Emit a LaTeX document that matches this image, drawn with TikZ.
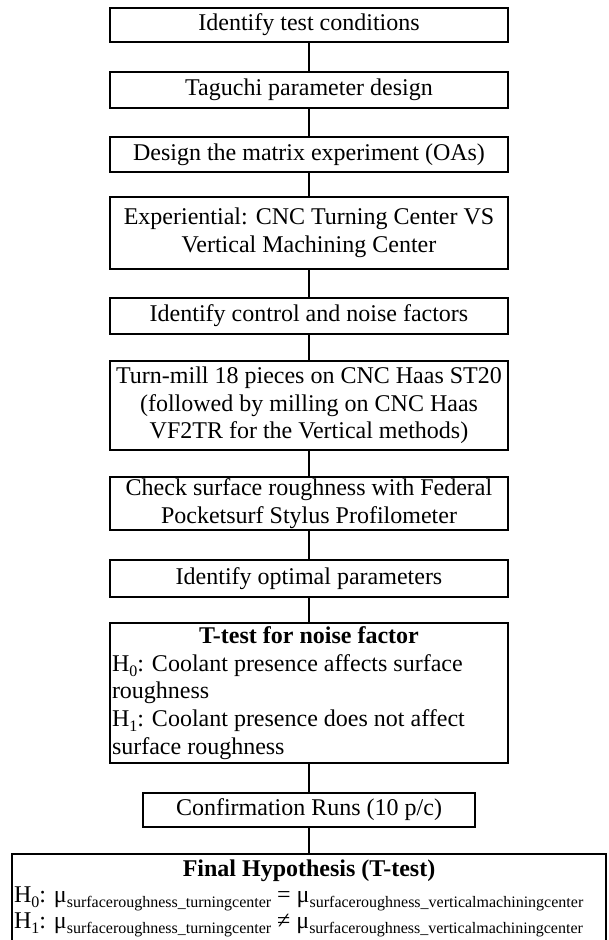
\documentclass[tikz,border=0pt]{standalone}
\usepackage{fontspec}
\setmainfont{Liberation Serif}

\newcommand{\subtxt}[1]{\raisebox{-0.22em}{\fontsize{16}{16}\selectfont #1}}

\begin{document}
\begin{tikzpicture}[x=1pt,y=-1pt,
  stepbox/.style={draw,line width=1.5pt,minimum width=398pt,inner sep=1pt,align=center},
  link/.style={line width=1.5pt}]
\tikzstyle{every node}+=[font=\fontsize{24}{27.6}\selectfont]
\useasboundingbox (0,0) rectangle (609,940);
\node [stepbox,minimum height=34pt] (cond) at (309,25) {Identify test conditions};
\node [stepbox,minimum height=36pt] (tagu) at (309,90) {Taguchi parameter design};
\node [stepbox,minimum height=35pt] (matx) at (309,154.5) {Design the matrix experiment (OAs)};
\node [stepbox,minimum height=72pt] (expr) at (309,233) {Experiential: CNC Turning Center VS\\Vertical Machining Center};
\node [stepbox,minimum height=36pt] (fact) at (309,316) {Identify control and noise factors};
\node [stepbox,minimum height=89pt] (mill) at (309,405.5) {Turn-mill 18 pieces on CNC Haas ST20\\(followed by milling on CNC Haas\\VF2TR for the Vertical methods)};
\node [stepbox,minimum height=53pt] (rough) at (309,503.5) {Check surface roughness with Federal\\Pocketsurf Stylus Profilometer};
\node [stepbox,minimum height=37pt] (optm) at (309,578.5) {Identify optimal parameters};
\node [stepbox,minimum height=140pt,text width=394pt,align=flush left] (ttest) at (309,693)
  {\makebox[394pt][c]{\textbf{T-test for noise factor}}\\
   H\subtxt{0}: Coolant presence affects surface\\
   roughness\\
   H\subtxt{1}: Coolant presence does not affect\\
   surface roughness};
\node [stepbox,minimum width=332pt,minimum height=34pt] (conf) at (309,810) {Confirmation Runs (10 p/c)};
\node [stepbox,anchor=north,inner xsep=2pt,inner ysep=6pt,text width=590pt,align=flush left,
  font=\fontsize{24}{26}\selectfont] (final) at (309,853)
  {\makebox[590pt][c]{\textbf{Final Hypothesis (T-test)}}\\
   H\subtxt{0}: μ\subtxt{surfaceroughness\_turningcenter} = μ\subtxt{surfaceroughness\_verticalmachiningcenter}\\
   H\subtxt{1}: μ\subtxt{surfaceroughness\_turningcenter} ≠ μ\subtxt{surfaceroughness\_verticalmachiningcenter}\par
   \vspace*{16pt}};
% connectors
\draw [link] (cond) -- (tagu);
\draw [link] (tagu) -- (matx);
\draw [link] (matx) -- (expr);
\draw [link] (expr) -- (fact);
\draw [link] (fact) -- (mill);
\draw [link] (mill) -- (rough);
\draw [link] (rough) -- (optm);
\draw [link] (optm) -- (ttest);
\draw [link] (ttest) -- (conf);
\draw [link] (conf) -- (final);
\end{tikzpicture}
\end{document}
